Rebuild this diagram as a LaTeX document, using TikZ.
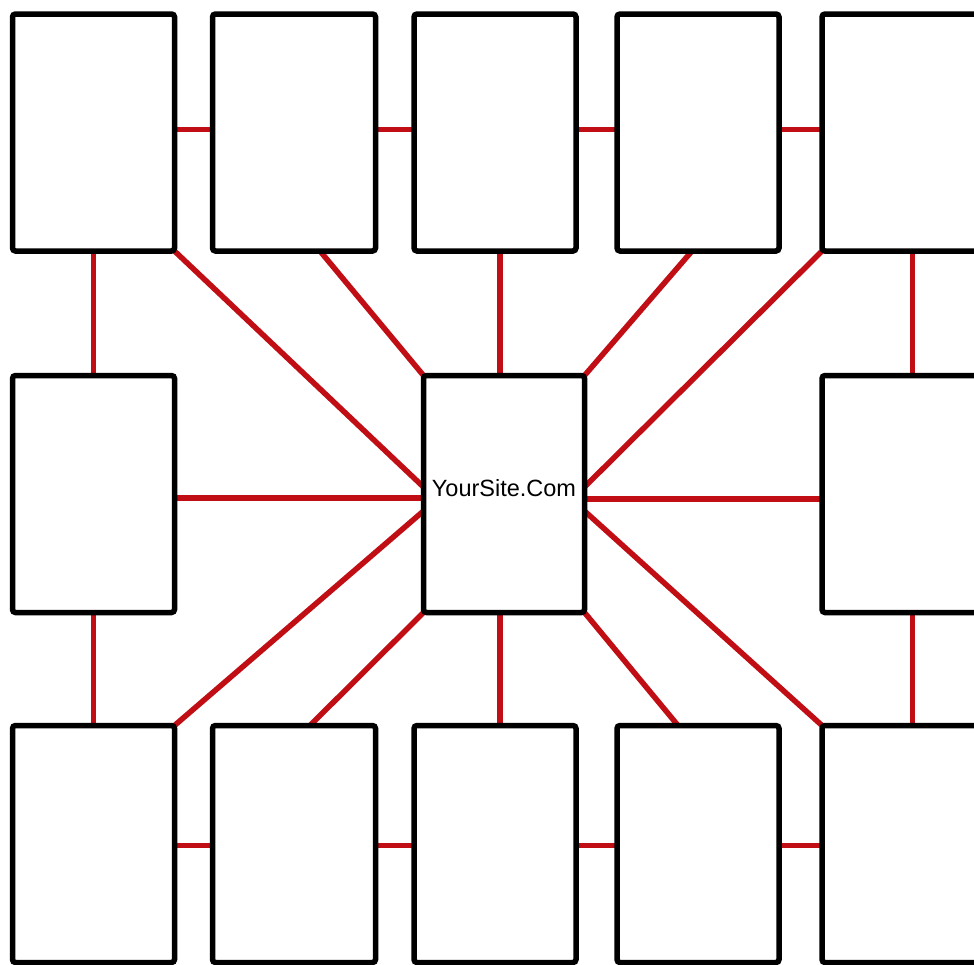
\documentclass[tikz,border=0pt]{standalone}
\usepackage{fontspec}
\setmainfont{Liberation Sans}
\usetikzlibrary{backgrounds}
\definecolor{linkred}{RGB}{192,14,20}
\begin{document}
\begin{tikzpicture}[x=1pt,y=-1pt,
  page/.style={draw=black, fill=white, line width=5.5pt, rounded corners=3pt,
    minimum width=162pt, minimum height=237pt, inner sep=0pt, outer sep=0pt},
  wide/.style={minimum width=181pt},
  link/.style={draw=linkred, line width=5.5pt}]
\useasboundingbox (0,0) rectangle (974,964);
% top row
\node[page] (t1) at (93.5,132.5) {};
\node[page, minimum width=163pt] (t2) at (294,132.5) {};
\node[page] (t3) at (495,132.5) {};
\node[page] (t4) at (698,132.5) {};
\node[page, wide] (t5) at (912.5,132.5) {};
% middle row
\node[page] (m1) at (93.5,494) {};
\node[page, minimum width=161pt, font=\fontsize{23.5}{28}\selectfont,
  text height=17pt, text depth=13pt] (c) at (504,494) {YourSite.Com};
\node[page, wide] (m5) at (912.5,494) {};
% bottom row
\node[page] (b1) at (93.5,844) {};
\node[page, minimum width=163pt] (b2) at (294,844) {};
\node[page] (b3) at (495,844) {};
\node[page] (b4) at (698,844) {};
\node[page, wide] (b5) at (912.5,844) {};
\begin{scope}[on background layer]
\fill[white] (0,0) rectangle (974,964);
% row links
\draw[link] ([yshift=3pt]t1.east) -- ([yshift=3pt]t2.west);
\draw[link] ([yshift=3pt]t2.east) -- ([yshift=3pt]t3.west);
\draw[link] ([yshift=3pt]t3.east) -- ([yshift=3pt]t4.west);
\draw[link] ([yshift=3pt]t4.east) -- ([yshift=3pt]t5.west);
\draw[link] ([yshift=-1.5pt]b1.east) -- ([yshift=-1.5pt]b2.west);
\draw[link] ([yshift=-1.5pt]b2.east) -- ([yshift=-1.5pt]b3.west);
\draw[link] ([yshift=-1.5pt]b3.east) -- ([yshift=-1.5pt]b4.west);
\draw[link] ([yshift=-1.5pt]b4.east) -- ([yshift=-1.5pt]b5.west);
% column links
\draw[link] (t1.south) -- (m1.north);
\draw[link] (m1.south) -- (b1.north);
\draw[link] (t5.south) -- (m5.north);
\draw[link] (m5.south) -- (b5.north);
\draw[link] ([xshift=5pt]t3.south) -- ([xshift=-4pt]c.north);
\draw[link] ([xshift=-4pt]c.south) -- ([xshift=5pt]b3.north);
\draw[link] ([yshift=-4pt]m1.east) -- ([yshift=-4pt]c.west);
\draw[link] ([yshift=-5pt]c.east) -- ([yshift=-5pt]m5.west);
% diagonals
\draw[link] (t1.south east) -- ([yshift=7pt]c.west);
\draw[link] ([xshift=26pt]t2.south) -- (c.north west);
\draw[link] ([xshift=-6pt]t4.south) -- (c.north east);
\draw[link] (t5.south west) -- ([yshift=7pt]c.east);
\draw[link] (b1.north east) -- ([yshift=-17pt]c.west);
\draw[link] ([xshift=16pt]b2.north) -- (c.south west);
\draw[link] (c.south east) -- ([xshift=-20pt]b4.north);
\draw[link] ([yshift=-17pt]c.east) -- (b5.north west);
\end{scope}
\end{tikzpicture}
\end{document}
